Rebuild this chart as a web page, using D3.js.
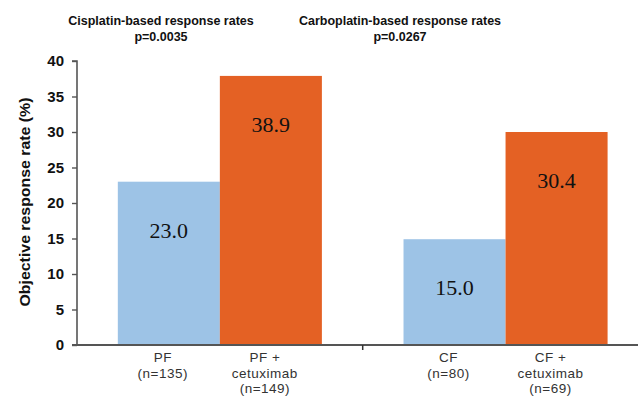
<!DOCTYPE html>
<html>
<head>
<meta charset="utf-8">
<script src="https://cdn.jsdelivr.net/npm/d3@7"></script>
<style>
  html, body { margin: 0; padding: 0; background: #fff; }
  svg { display: block; }
</style>
</head>
<body>
<svg id="chart" width="638" height="396"></svg>
<script>
// ---- data ----
const groups = ["Cisplatin", "Carboplatin"];
const groupTitles = ["Cisplatin-based response rates", "Carboplatin-based response rates"];
const groupPValues = ["p=0.0035", "p=0.0267"];
const categories = ["PF", "PF + cetuximab", "CF", "CF + cetuximab"];
const categoryGroup = ["Cisplatin", "Cisplatin", "Carboplatin", "Carboplatin"];
const categoryLabelLines = [["PF", "(n=135)"], ["PF +", "cetuximab", "(n=149)"], ["CF", "(n=80)"], ["CF +", "cetuximab", "(n=69)"]];
const barValues = [23.0, 37.9, 14.9, 30.0];      // drawn bar heights
const valueLabels = ["23.0", "38.9", "15.0", "30.4"]; // printed labels
const barKind = ["control", "cetuximab", "control", "cetuximab"];
const yTicks = [0, 5, 10, 15, 20, 25, 30, 35, 40];
const yTitle = "Objective response rate (%)";

// ---- layout ----
const svg = d3.select("#chart");
const mLeft = 77, mTop = 61, mBottom = 345;
const groupWidth = 285.7;
const mRight = mLeft + groupWidth * groups.length;
const colors = { control: "#9dc3e6", cetuximab: "#e46124" };

const y = d3.scaleLinear().domain([0, 40]).range([mBottom, mTop]);
const xGroup = d3.scaleBand().domain(groups).range([mLeft, mRight]).paddingInner(0).paddingOuter(0);
const xInner = d3.scaleBand().domain([0, 1]).range([0, xGroup.bandwidth()]).paddingInner(0).paddingOuter(0.4);

const data = categories.map((c, i) => ({
  cat: c, group: categoryGroup[i], value: barValues[i], label: valueLabels[i],
  lines: categoryLabelLines[i], kind: barKind[i],
  idx: categoryGroup.slice(0, i).filter(g => g === categoryGroup[i]).length
}));
const bx = d => xGroup(d.group) + xInner(d.idx);

// bars
svg.append("g").selectAll("rect").data(data).join("rect")
  .attr("x", bx)
  .attr("y", d => y(d.value))
  .attr("width", xInner.bandwidth())
  .attr("height", d => y(0) - y(d.value))
  .attr("fill", d => colors[d.kind]);

// value labels
svg.append("g").selectAll("text").data(data).join("text")
  .attr("x", d => bx(d) + xInner.bandwidth() / 2)
  .attr("y", d => y(d.value) + 56)
  .attr("text-anchor", "middle")
  .attr("font-family", "'Liberation Serif', 'Times New Roman', serif")
  .attr("font-size", 22)
  .attr("fill", "#111")
  .text(d => d.label);

// y axis
const yAxis = svg.append("g")
  .attr("transform", `translate(${mLeft},0)`)
  .call(d3.axisLeft(y).tickValues(yTicks).tickSize(5).tickPadding(8).tickFormat(d3.format("d")));
yAxis.select(".domain").attr("stroke", "#555").attr("stroke-width", 1.6).attr("d", `M-5,${mTop}H0V${mBottom}`);
yAxis.selectAll(".tick line").attr("stroke", "#555").attr("stroke-width", 1.4);
yAxis.selectAll(".tick text")
  .attr("font-family", "'Liberation Sans', Arial, sans-serif")
  .attr("font-weight", "bold")
  .attr("font-size", 15)
  .attr("fill", "#111");

// x axis (group boundaries)
const xAxis = svg.append("g")
  .attr("transform", `translate(0,${mBottom})`);
xAxis.append("line")
  .attr("x1", mLeft - 5).attr("x2", mRight)
  .attr("stroke", "#555").attr("stroke-width", 2);
xAxis.selectAll("line.gt").data(groups.slice(1)).join("line")
  .attr("class", "gt")
  .attr("x1", g => xGroup(g)).attr("x2", g => xGroup(g))
  .attr("y1", 0).attr("y2", 5)
  .attr("stroke", "#333").attr("stroke-width", 1.5);

// category labels
const catG = svg.append("g").selectAll("text").data(data).join("text")
  .attr("text-anchor", "middle")
  .attr("font-family", "'Liberation Sans', Arial, sans-serif")
  .attr("font-size", 13.5)
  .attr("letter-spacing", 0.5)
  .attr("fill", "#333");
catG.selectAll("tspan").data(d => d.lines.map(l => ({ l, x: bx(d) + xInner.bandwidth() / 2 - 6 }))).join("tspan")
  .attr("x", t => t.x)
  .attr("y", (t, i) => mBottom + 17 + i * 15.5)
  .text(t => t.l);

// y title
svg.append("text")
  .attr("transform", `translate(30,${(mTop + mBottom) / 2 - 1}) rotate(-90)`)
  .attr("text-anchor", "middle")
  .attr("font-family", "'Liberation Sans', Arial, sans-serif")
  .attr("font-weight", "bold")
  .attr("font-size", 15)
  .attr("textLength", 209)
  .attr("lengthAdjust", "spacingAndGlyphs")
  .attr("fill", "#111")
  .text(yTitle);

// group titles
const titleX = [161, 400];
const tg = svg.append("g").selectAll("text").data(groups).join("text")
  .attr("text-anchor", "middle")
  .attr("font-family", "'Liberation Sans', Arial, sans-serif")
  .attr("font-weight", "bold")
  .attr("font-size", 12.5)
  .attr("fill", "#111");
tg.append("tspan").attr("x", (g, i) => titleX[i]).attr("y", 25).text((g, i) => groupTitles[i]);
tg.append("tspan").attr("x", (g, i) => titleX[i]).attr("y", 41).text((g, i) => groupPValues[i]);
</script>
</body>
</html>
